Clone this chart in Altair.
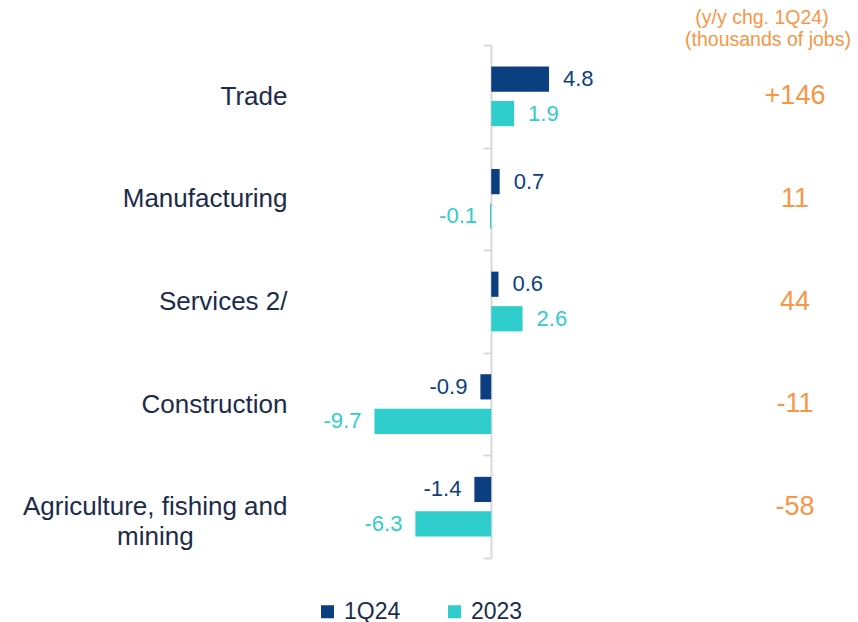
import altair as alt
import pandas as pd

categories = ["Trade", "Manufacturing", "Services 2/", "Construction",
              "Agriculture, fishing and mining"]
series = ["1Q24", "2023"]
q1_24 = [4.8, 0.7, 0.6, -0.9, -1.4]
y2023 = [1.9, -0.1, 2.6, -9.7, -6.3]
yoy_jobs = ["+146", "11", "44", "-11", "-58"]
header_lines = ["(y/y chg. 1Q24)", "(thousands of jobs)"]

rows = []
for c, a, b in zip(categories, q1_24, y2023):
    rows.append({"cat": c, "series": series[0], "value": a, "label": f"{a:.1f}"})
    rows.append({"cat": c, "series": series[1], "value": b, "label": f"{b:.1f}"})
df = pd.DataFrame(rows)
df_jobs = pd.DataFrame({"cat": categories, "jobs": yoy_jobs})
df_one = pd.DataFrame({"a": [0]})

NAVY = "#0C3F7F"
TEAL = "#2FCDCB"
ORANGE = "#F79646"
LABEL = "#1C2B4B"
AXIS = "#D9D9D9"
FONT = "Liberation Sans"
NB = "\u00a0"
ZW = "\u200b"

label_expr = ("datum.value == 'Agriculture, fishing and mining' ? "
              "['Agriculture, fishing and', 'mining" + NB * 13 + ZW + "'] : datum.value")

y_enc = alt.Y(
    "cat:N", sort=categories,
    scale=alt.Scale(paddingInner=0, paddingOuter=0),
    axis=alt.Axis(title=None, orient="left", offset=-196, domain=True,
                  domainColor=AXIS, domainWidth=2, ticks=True, tickBand="extent",
                  tickColor=AXIS, tickWidth=2, tickSize=8, labelPadding=196,
                  labelFont=FONT, labelFontSize=26, labelColor=LABEL,
                  labelLineHeight=30, labelExpr=label_expr, labelLimit=0),
)
yoff_enc = alt.YOffset("series:N", sort=series,
                       scale=alt.Scale(paddingInner=0.27, paddingOuter=0.62))
x_enc = alt.X("value:Q", scale=alt.Scale(domain=[-16.3, 29.8], nice=False, zero=False),
              axis=None)
color_enc = alt.Color(
    "series:N", sort=series,
    scale=alt.Scale(domain=series, range=[NAVY, TEAL]),
    legend=alt.Legend(title=None, orient="none", legendX=21, legendY=555,
                      direction="horizontal", symbolType="square", symbolSize=169,
                      symbolStrokeWidth=0, labelFontSize=23, labelFont=FONT,
                      labelColor=LABEL, columnPadding=42, labelOffset=5),
)

bars = alt.Chart(df).mark_bar().encode(x=x_enc, y=y_enc, yOffset=yoff_enc, color=color_enc)

pos_txt = alt.Chart(df).transform_filter("datum.value >= 0").mark_text(
    align="left", dx=14, fontSize=22, font=FONT, baseline="middle"
).encode(x=x_enc, y=y_enc, yOffset=yoff_enc, color=color_enc, text="label:N")

neg_txt = alt.Chart(df).transform_filter("datum.value < 0").mark_text(
    align="right", dx=-13, fontSize=22, font=FONT, baseline="middle"
).encode(x=x_enc, y=y_enc, yOffset=yoff_enc, color=color_enc, text="label:N")

jobs_txt = alt.Chart(df_jobs).mark_text(
    align="center", fontSize=27, font=FONT, color=ORANGE, baseline="middle"
).encode(x=alt.value(500), y=y_enc, text="jobs:N")

head1 = alt.Chart(df_one).mark_text(
    align="center", fontSize=19.5, font=FONT, color=ORANGE, baseline="middle"
).encode(x=alt.value(467), y=alt.value(-27), text=alt.value(header_lines[0]))
head2 = alt.Chart(df_one).mark_text(
    align="center", fontSize=19.5, font=FONT, color=ORANGE, baseline="middle"
).encode(x=alt.value(473), y=alt.value(-5), text=alt.value(header_lines[1]))

chart = alt.layer(bars, pos_txt, neg_txt, jobs_txt, head1, head2).properties(
    width=555, height=513, background="white",
    autosize=alt.AutoSizeParams(type="none"),
    padding={"left": 287, "top": 37, "right": 0, "bottom": 64},
).configure_view(stroke=None)

chart.save("out.html", embed_options={"renderer": "svg", "actions": False})
